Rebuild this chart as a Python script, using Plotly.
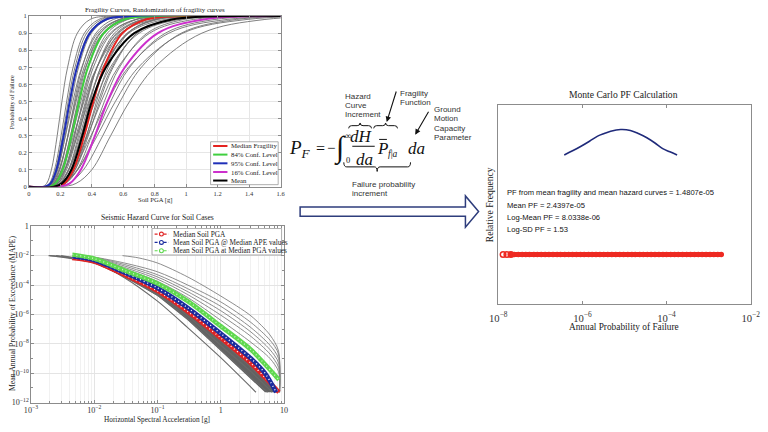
import plotly.graph_objects as go

W, H = 768, 432
def X(px): return px / W
def Y(py): return 1 - py / H

SERIF = "Liberation Serif"
SANS = "Liberation Sans"

# ---------------- data: fragility curves (PGA [g] at given probability levels) ----------------
p_levels = [0, 0.02, 0.1, 0.3, 0.5, 0.7, 0.9, 0.98, 1.0]
frag_median = [0.172, 0.226, 0.283, 0.352, 0.41, 0.477, 0.595, 0.743, 0.98]
frag_84 = [0.126, 0.169, 0.215, 0.272, 0.32, 0.376, 0.476, 0.605, 0.81]
frag_95 = [0.10, 0.138, 0.175, 0.221, 0.26, 0.306, 0.387, 0.49, 0.66]
frag_16 = [0.19, 0.26, 0.33, 0.42, 0.50, 0.61, 0.82, 1.11, 1.6]
frag_mean = [0.158, 0.21, 0.27, 0.34, 0.40, 0.49, 0.67, 0.91, 1.33]
frag_random = [
    [0.085, 0.113, 0.143, 0.180, 0.21, 0.246, 0.308, 0.389, 0.517],
    [0.098, 0.130, 0.163, 0.205, 0.24, 0.281, 0.353, 0.444, 0.590],
    [0.102, 0.135, 0.170, 0.214, 0.25, 0.293, 0.367, 0.463, 0.615],
    [0.106, 0.140, 0.177, 0.222, 0.26, 0.304, 0.382, 0.482, 0.640],
    [0.110, 0.146, 0.184, 0.231, 0.27, 0.316, 0.397, 0.500, 0.664],
    [0.098, 0.136, 0.179, 0.233, 0.28, 0.336, 0.438, 0.575, 0.800],
    [0.118, 0.157, 0.197, 0.248, 0.29, 0.339, 0.426, 0.537, 0.713],
    [0.110, 0.150, 0.193, 0.248, 0.295, 0.351, 0.450, 0.581, 0.794],
    [0.105, 0.146, 0.192, 0.250, 0.30, 0.360, 0.470, 0.616, 0.857],
    [0.126, 0.167, 0.211, 0.265, 0.31, 0.363, 0.455, 0.574, 0.763],
    [0.117, 0.160, 0.206, 0.265, 0.315, 0.375, 0.481, 0.621, 0.847],
    [0.130, 0.173, 0.218, 0.274, 0.32, 0.374, 0.470, 0.593, 0.787],
    [0.116, 0.161, 0.211, 0.275, 0.33, 0.396, 0.517, 0.678, 0.943],
    [0.138, 0.184, 0.232, 0.291, 0.34, 0.398, 0.499, 0.630, 0.836],
    [0.128, 0.175, 0.226, 0.290, 0.345, 0.410, 0.526, 0.680, 0.928],
    [0.105, 0.154, 0.210, 0.284, 0.35, 0.432, 0.585, 0.796, 1.162],
    [0.126, 0.175, 0.230, 0.300, 0.36, 0.432, 0.564, 0.739, 1.029],
    [0.136, 0.185, 0.239, 0.307, 0.365, 0.434, 0.557, 0.719, 0.982],
    [0.151, 0.200, 0.252, 0.316, 0.37, 0.433, 0.544, 0.685, 0.910],
    [0.114, 0.167, 0.228, 0.308, 0.38, 0.469, 0.635, 0.864, 1.262],
    [0.143, 0.196, 0.252, 0.324, 0.385, 0.458, 0.588, 0.759, 1.036],
    [0.159, 0.211, 0.266, 0.333, 0.39, 0.456, 0.573, 0.722, 0.959],
    [0.140, 0.195, 0.256, 0.333, 0.40, 0.480, 0.626, 0.822, 1.143],
    [0.153, 0.208, 0.269, 0.345, 0.41, 0.487, 0.626, 0.808, 1.103],
    [0.126, 0.185, 0.252, 0.341, 0.42, 0.518, 0.701, 0.955, 1.394],
    [0.175, 0.232, 0.293, 0.368, 0.43, 0.503, 0.632, 0.796, 1.058],
    [0.154, 0.214, 0.281, 0.366, 0.44, 0.528, 0.689, 0.904, 1.258],
    [0.167, 0.229, 0.295, 0.378, 0.45, 0.535, 0.687, 0.887, 1.211],
    [0.138, 0.202, 0.276, 0.373, 0.46, 0.567, 0.768, 1.046, 1.527],
    [0.168, 0.234, 0.307, 0.399, 0.48, 0.576, 0.752, 0.986, 1.372],
    [0.130, 0.199, 0.281, 0.395, 0.50, 0.633, 0.890, 1.260, 1.929],
    [0.157, 0.229, 0.311, 0.422, 0.52, 0.641, 0.868, 1.182, 1.726],
    [0.142, 0.218, 0.309, 0.435, 0.55, 0.696, 0.979, 1.386, 2.121],
    [0.175, 0.255, 0.347, 0.470, 0.58, 0.715, 0.969, 1.319, 1.926],
    [0.200, 0.300, 0.400, 0.520, 0.64, 0.800, 1.100, 1.500, 2.200],
]
frag_x_ticks = [0, 0.2, 0.4, 0.6, 0.8, 1, 1.2, 1.4, 1.6]
frag_legend = ["Median Fragility", "84% Conf. Level", "95% Conf. Level", "16% Conf. Level", "Mean"]

# ---------------- data: seismic hazard curves (PGA [g], log10 MAPE) ----------------
haz_pga_median = [0.0045, 0.01, 0.03, 0.1, 0.3, 1, 3, 5, 8.3]
haz_median_log10 = [-2.16, -2.4, -3.3, -4.4, -5.8, -7.6, -9.33, -10.3, -11.3]
haz_pga_mean_ape = [0.0045, 0.01, 0.03, 0.1, 0.3, 1, 3, 5, 7.5]
haz_mean_ape_log10 = [-2.05, -2.3, -3.15, -4.2, -5.55, -7.3, -9.0, -10.0, -11.3]
haz_pga_mean_pga = [0.0045, 0.01, 0.03, 0.1, 0.3, 1, 3, 5, 8.3]
haz_mean_pga_log10 = [-1.93, -2.2, -3.0, -3.9, -5.1, -6.8, -8.4, -9.4, -10.45]

haz_upper_pga = [
    [0.028, 0.05, 0.1, 0.3, 1, 3, 6, 8.2, 8.5],
    [0.005, 0.01, 0.03, 0.1, 0.3, 1, 3, 6, 8.2, 8.5],
    [0.005, 0.01, 0.03, 0.1, 0.3, 1, 3, 6, 8.2, 8.5],
    [0.005, 0.01, 0.03, 0.1, 0.3, 1, 3, 6, 8.2, 8.5],
    [0.005, 0.01, 0.03, 0.1, 0.3, 1, 3, 6, 8.2, 8.5],
    [0.005, 0.01, 0.03, 0.1, 0.3, 1, 3, 6, 8.2, 8.5],
]
haz_upper_log10 = [
    [-2.0, -2.15, -2.5, -3.45, -4.75, -6.1, -7.4, -8.5, -11.3],
    [-1.95, -2.1, -2.5, -3.1, -4.0, -5.15, -6.55, -7.75, -8.7, -11.3],
    [-1.97, -2.12, -2.6, -3.3, -4.25, -5.45, -6.9, -8.1, -9.0, -11.3],
    [-2.0, -2.15, -2.7, -3.45, -4.45, -5.75, -7.2, -8.4, -9.3, -11.3],
    [-2.0, -2.18, -2.8, -3.6, -4.65, -6.05, -7.5, -8.7, -9.6, -11.3],
    [-1.98, -2.2, -2.9, -3.75, -4.85, -6.4, -7.9, -9.0, -9.9, -11.3],
]
haz_lower_pga = [
    [0.003, 0.01, 0.03, 0.1, 0.3, 1, 3, 7.5],
    [0.0025, 0.01, 0.03, 0.1, 0.3, 1, 3, 6.5],
    [0.002, 0.01, 0.03, 0.1, 0.3, 1, 3, 5.5],
    [0.0019, 0.005, 0.01, 0.03, 0.1, 0.3, 1, 3.6],
]
haz_lower_log10 = [
    [-2.0, -2.45, -3.35, -4.5, -5.95, -7.8, -9.6, -11.3],
    [-2.0, -2.5, -3.4, -4.6, -6.1, -8.1, -9.9, -11.3],
    [-2.0, -2.5, -3.45, -4.7, -6.3, -8.4, -10.3, -11.3],
    [-2.0, -2.15, -2.45, -3.5, -5.1, -6.9, -8.95, -11.3],
]
haz_band_pga = [0.002, 0.005, 0.01, 0.03, 0.1, 0.3, 1, 3, 5]
haz_band_low_log10 = [-2.05, -2.2, -2.5, -3.45, -4.75, -6.4, -8.5, -10.4, -11.3]
haz_legend = ["Median Soil PGA", "Mean Soil PGA @ Median APE values", "Mean Soil PGA at Median PGA values"]

# ---------------- data: Monte Carlo PF ----------------
pf_curve_x = [3.7e-7, 6e-7, 9.5e-7, 1.5e-6, 2.3e-6, 3.3e-6, 4.7e-6, 8.1e-6, 1.38e-5,
              2.2e-5, 3.4e-5, 5.3e-5, 8.1e-5, 1.2e-4, 1.78e-4]
pf_curve_rel_freq = [0.80, 0.835, 0.872, 0.912, 0.951, 0.972, 0.99, 1.004, 0.997,
                     0.97, 0.938, 0.896, 0.851, 0.825, 0.80]
pf_samples = [1.3e-8, 1.6e-8, 2.0e-8, 2.4e-8, 3.0e-8, 3.7e-8, 4.5e-8, 5.5e-8, 7e-8, 8.5e-8,
              1.05e-7, 1.3e-7, 1.6e-7, 2e-7, 2.5e-7, 3e-7, 3.8e-7, 4.7e-7, 5.8e-7, 7.2e-7,
              9e-7, 1.1e-6, 1.4e-6, 1.7e-6, 2.1e-6, 2.6e-6, 3.2e-6, 4e-6, 5e-6, 6.2e-6,
              7.7e-6, 9.5e-6, 1.2e-5, 1.5e-5, 1.8e-5, 2.3e-5, 2.8e-5, 3.5e-5, 4.3e-5, 5.3e-5,
              6.6e-5, 8.2e-5, 1e-4, 1.25e-4, 1.55e-4, 1.9e-4, 2.4e-4, 3e-4, 3.7e-4, 4.6e-4,
              5.7e-4, 7e-4, 8.7e-4, 1.08e-3, 1.33e-3, 1.65e-3, 2.0e-3]
pf_stats_text = ["PF from mean fragility and mean hazard curves = 1.4807e-05",
                 "Mean PF = 2.4397e-05",
                 "Log-Mean PF = 8.0338e-06",
                 "Log-SD PF = 1.53"]

fig = go.Figure()

# ---------------- fragility traces ----------------
def frag_xy(xs):
    x = [0] + list(xs)
    y = [0] + list(p_levels)
    if xs[-1] < frag_x_ticks[-1]:
        x.append(frag_x_ticks[-1]); y.append(1)
    return x, y

for xs in frag_random:
    x, y = frag_xy(xs)
    fig.add_trace(go.Scatter(x=x, y=y, mode="lines", xaxis="x", yaxis="y",
                             line=dict(color="#727272", width=0.9, shape="spline", smoothing=1),
                             hoverinfo="skip"))
frag_styles = [(frag_median, "#e42320"), (frag_84, "#3fcf3f"),
               (frag_95, "#1f2fb8"), (frag_16, "#cc30cc"), (frag_mean, "#000000")]
for xs, col in frag_styles:
    x, y = frag_xy(xs)
    fig.add_trace(go.Scatter(x=x, y=y, mode="lines", xaxis="x", yaxis="y",
                             line=dict(color=col, width=2, shape="spline", smoothing=1)))

# ---------------- hazard traces ----------------
def pw(v): return [10 ** e for e in v]

band_x = haz_band_pga + haz_pga_median[::-1]
band_y = pw(haz_band_low_log10) + pw(haz_median_log10)[::-1]
fig.add_trace(go.Scatter(x=band_x, y=band_y, mode="lines", fill="toself", fillcolor="#626262",
                         line=dict(width=0, color="#626262"), xaxis="x2", yaxis="y2"))
for xs, ys in zip(haz_lower_pga, haz_lower_log10):
    fig.add_trace(go.Scatter(x=xs, y=pw(ys), mode="lines", xaxis="x2", yaxis="y2",
                             line=dict(color="#6a6a6a", width=1.1, shape="spline", smoothing=0.8)))
for xs, ys in zip(haz_upper_pga, haz_upper_log10):
    fig.add_trace(go.Scatter(x=xs, y=pw(ys), mode="lines", xaxis="x2", yaxis="y2",
                             line=dict(color="#808080", width=0.9, shape="spline", smoothing=0.8)))

haz_styles = [(haz_pga_median, haz_median_log10, "#e02424", "white"),
              (haz_pga_mean_ape, haz_mean_ape_log10, "#1b2c9e", "white"),
              (haz_pga_mean_pga, haz_mean_pga_log10, "#5fd84f", "#c8f5c0")]
for xs, ys, col, dotcol in haz_styles:
    fig.add_trace(go.Scatter(x=xs, y=pw(ys), mode="lines", xaxis="x2", yaxis="y2",
                             line=dict(color=col, width=4.5, shape="spline", smoothing=0.8)))
    fig.add_trace(go.Scatter(x=xs, y=pw(ys), mode="lines", xaxis="x2", yaxis="y2",
                             line=dict(color=dotcol, width=1.4, dash="1px,3px", shape="spline", smoothing=0.8)))

# ---------------- Monte Carlo traces ----------------
fig.add_trace(go.Scatter(x=pf_curve_x, y=pf_curve_rel_freq, mode="lines", xaxis="x3", yaxis="y3",
                         line=dict(color="#1f2a7a", width=1.6, shape="spline", smoothing=1)))
fig.add_trace(go.Scatter(x=pf_samples[2:], y=[0] * len(pf_samples[2:]), mode="lines+markers",
                         xaxis="x3", yaxis="y3", line=dict(color="#ee2a22", width=5),
                         marker=dict(symbol="circle", color="#ee2a22", size=5.5)))
fig.add_trace(go.Scatter(x=pf_samples[:3], y=[0] * 3, mode="markers", xaxis="x3", yaxis="y3",
                         marker=dict(symbol="circle-open", color="#ee2a22", size=5.5, line=dict(width=1.5))))

# ---------------- axes ----------------
ax_common = dict(showline=True, linecolor="#8c8c8c", linewidth=0.8, mirror="ticks", ticks="inside",
                 ticklen=3, tickcolor="#8c8c8c", zeroline=False)
fig.update_layout(
    width=W, height=H, margin=dict(l=0, r=0, t=0, b=0), autosize=False,
    paper_bgcolor="white", plot_bgcolor="white", showlegend=False,
    xaxis=dict(domain=[X(20.4), X(278.5)], range=[0, 1.6], tickvals=frag_x_ticks, anchor="y",
               showgrid=True, gridcolor="#e6e6e6", gridwidth=0.6,
               tickfont=dict(family=SERIF, size=6.5, color="#333"), **ax_common),
    yaxis=dict(domain=[Y(186.7), Y(12.3)], range=[0, 1], dtick=0.1, anchor="x",
               showgrid=True, gridcolor="#e6e6e6", gridwidth=0.6,
               tickfont=dict(family=SERIF, size=6.5, color="#333"), **ax_common),
    xaxis2=dict(domain=[X(22.5), X(282)], type="log", range=[-3, 1], dtick=1, anchor="y2",
                exponentformat="power", showgrid=True, gridcolor="#e4e4e4", gridwidth=0.6,
                minor=dict(dtick="D1", showgrid=True, gridcolor="#f1f1f1", ticks="inside", ticklen=2,
                           tickcolor="#8c8c8c"),
                tickfont=dict(family=SERIF, size=6.5, color="#333"), **ax_common),
    yaxis2=dict(domain=[Y(407), Y(227)], type="log", range=[-12, 0], dtick=2, anchor="x2",
                exponentformat="power", showgrid=True, gridcolor="#e4e4e4", gridwidth=0.6,
                minor=dict(dtick=1, ticks="inside", ticklen=2, tickcolor="#8c8c8c", showgrid=False),
                tickfont=dict(family=SERIF, size=6.5, color="#333"), **ax_common),
    xaxis3=dict(domain=[X(501.7), X(760.5)], type="log", range=[-8, -2], dtick=2, anchor="y3",
                exponentformat="power", showgrid=False, ticklabelstandoff=4,
                tickfont=dict(family=SERIF, size=8.5, color="#333"), **ax_common),
    yaxis3=dict(domain=[Y(306.7), Y(103.3)], range=[-0.4, 1.2], anchor="x3", showgrid=False,
                showticklabels=False, showline=True, linecolor="#8c8c8c", linewidth=0.8,
                mirror=True, ticks="", zeroline=False),
)

# ---------------- annotations ----------------
anns = []
def txt(s, px, py, size, family=SERIF, color="#222", xanchor="center", angle=0):
    anns.append(dict(text=s, x=X(px), y=Y(py), xref="paper", yref="paper", showarrow=False,
                     xanchor=xanchor, yanchor="middle", textangle=angle,
                     font=dict(family=family, size=size, color=color)))

txt("Fragility Curves, Randomization of fragility curves", 149.5, 5.7, 6.8)
txt("Probability of Failure", 3.5, 100, 6.3, angle=-90)
txt("Soil PGA [g]", 150, 200, 6.6)
txt("Seismic Hazard Curve for Soil Cases", 152, 218.3, 7.6)
txt("Mean Annual Probability of Exceedance (MAPE)", 3.8, 316, 7.8, angle=-90)
txt("Horizontal Spectral Acceleration [g]", 152, 424, 7.3)
txt("Monte Carlo PF Calculation", 630.5, 92.7, 9.6)
txt("Relative Frequency", 492.7, 205, 9.6, angle=-90)
txt("Annual Probability of Failure", 630.7, 330, 9.3)
for s, py in zip(pf_stats_text, [193, 205.5, 218, 230.5]):
    txt(s, 508.3, py, 7.6, family=SANS, color="#111", xanchor="left")

# equation
EQ = "#111"
txt("<i>P</i><sub><i>F</i></sub>", 312, 148, 19, color=EQ, xanchor="right")
txt("=", 319.5, 147.5, 16, color=EQ)
txt("\u2212", 330.5, 147.5, 15, color=EQ)
txt("\u222b", 339.5, 147, 30, color=EQ)
txt("\u221e", 348, 135, 9, color=EQ)
txt("0", 347.3, 159, 8.5, color=EQ)
txt("<i>dH</i>", 361.7, 135.5, 17, color=EQ)
txt("<i>da</i>", 364.5, 159, 17, color=EQ)
txt("<i>P</i>", 383, 147.3, 17, color=EQ)
txt("<i>f</i>|<i>a</i>", 393.5, 153.5, 9.5, color=EQ)
txt("<i>da</i>", 418, 147.3, 17, color=EQ)
GR = "#333"
for s, py in zip(["Hazard", "Curve", "Increment"], [94.3, 104, 113.3]):
    txt(s, 342.7, py, 8, family=SANS, color=GR, xanchor="left")
for s, py in zip(["Fragility", "Function"], [91.7, 101]):
    txt(s, 399.3, py, 8, family=SANS, color=GR, xanchor="left")
for s, py in zip(["Ground", "Motion", "Capacity", "Parameter"], [107.7, 117.3, 126.7, 136.3]):
    txt(s, 434, py, 8, family=SANS, color=GR, xanchor="left")
for s, py in zip(["Failure probability", "increment"], [184, 193.3]):
    txt(s, 349.3, py, 8, family=SANS, color=GR, xanchor="left")

# arrows of the equation
for (tx, ty), (hx, hy) in [((397.3, 88.5), (387.3, 120.5)), ((430.7, 109), (416.5, 133.5))]:
    anns.append(dict(x=X(hx), y=Y(hy), xref="paper", yref="paper", ax=tx - hx, ay=ty - hy,
                     axref="pixel", ayref="pixel", text="", showarrow=True, arrowhead=2,
                     arrowsize=1, arrowwidth=1.1, arrowcolor="#111"))

# legend texts
frag_leg_y = [145, 153.8, 162.7, 171.6, 180.3]
for s, py in zip(frag_legend, frag_leg_y):
    txt(s, 226, py, 6.8, color="#222", xanchor="left")
haz_leg_y = [235, 243.5, 252]
for s, py in zip(haz_legend, haz_leg_y):
    txt(s, 166, py, 7.3, color="#222", xanchor="left")

# ---------------- shapes ----------------
shapes = []
def line(x0, y0, x1, y1, color, width, dash=None):
    d = dict(type="line", xref="paper", yref="paper", x0=X(x0), y0=Y(y0), x1=X(x1), y1=Y(y1),
             line=dict(color=color, width=width))
    if dash:
        d["line"]["dash"] = dash
    shapes.append(d)

def brace(x0, x1, ytip, ybase):
    ym = (ytip + ybase) / 2
    xm = (x0 + x1) / 2
    r = min(3.0, (x1 - x0) / 6)
    pts = [("M", [(x0, ybase)]), ("Q", [(x0, ym), (x0 + r, ym)]), ("L", [(xm - r, ym)]),
           ("Q", [(xm, ym), (xm, ytip)]), ("Q", [(xm, ym), (xm + r, ym)]), ("L", [(x1 - r, ym)]),
           ("Q", [(x1, ym), (x1, ybase)])]
    path = " ".join(c + " " + " ".join(f"{X(a):.5f},{Y(b):.5f}" for a, b in p) for c, p in pts)
    shapes.append(dict(type="path", xref="paper", yref="paper", path=path,
                       line=dict(color="#111", width=1)))

line(352, 145.3, 375, 145.3, EQ, 1)       # fraction bar
line(379.5, 138.3, 387.5, 138.3, EQ, 1)   # overbar of P
brace(348.3, 371.7, 121.5, 127)
brace(374, 398.3, 121.5, 127)
brace(343.3, 411.7, 171, 161.7)

# block arrow
arrow_pts = [(298.5, 207.3), (468, 207.3), (468, 196), (481.5, 212), (468, 228), (468, 216.7), (298.5, 216.7)]
shapes.append(dict(type="path", xref="paper", yref="paper",
                   path="M " + " L ".join(f"{X(a):.5f},{Y(b):.5f}" for a, b in arrow_pts) + " Z",
                   line=dict(color="#2e3d7c", width=1.5), fillcolor="white"))

# fragility legend box
shapes.append(dict(type="rect", xref="paper", yref="paper", x0=X(206.7), y0=Y(184.5), x1=X(276), y1=Y(140.7),
                   line=dict(color="#8c8c8c", width=0.7), fillcolor="white"))
for (xs, col), py in zip(frag_styles, frag_leg_y):
    line(209.3, py, 224, py, col, 2)

# hazard legend box
shapes.append(dict(type="rect", xref="paper", yref="paper", x0=X(146.7), y0=Y(256.3), x1=X(279.5), y1=Y(229.3),
                   line=dict(color="#8c8c8c", width=0.7), fillcolor="white"))
for (xs, ys, col, dotcol), py in zip(haz_styles, haz_leg_y):
    line(149.3, py, 163.3, py, col, 1.2, dash="3px,1.5px")
    shapes.append(dict(type="circle", xref="paper", yref="paper", x0=X(154.3), x1=X(158.3),
                       y0=Y(py + 2), y1=Y(py - 2), line=dict(color=col, width=1.1), fillcolor="white"))

for s in shapes:
    s.setdefault("layer", "above")

fig.update_layout(annotations=anns, shapes=shapes)
fig.write_html("out.html")
